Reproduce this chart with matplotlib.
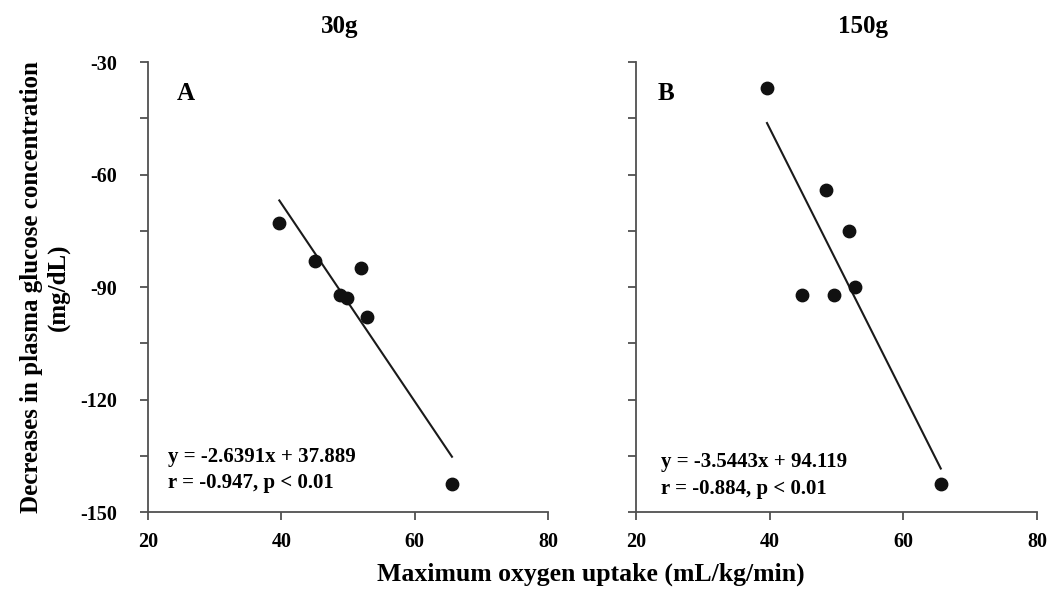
import numpy as np
import matplotlib
matplotlib.use('Agg')
import matplotlib.pyplot as plt

plt.rcParams['font.family'] = ['Liberation Serif', 'DejaVu Serif']
plt.rcParams['font.weight'] = 'bold'
plt.rcParams['axes.unicode_minus'] = False

# panel A (30g)
xa = [39.7, 45.0, 48.8, 49.8, 52.0, 52.8, 65.6]
ya = [-73.0, -83.0, -92.0, -93.0, -85.0, -98.0, -142.5]
slope_a, icpt_a = -2.6391, 37.889
# panel B (150g)
xb = [39.6, 44.8, 48.5, 49.6, 51.8, 52.7, 65.6]
yb = [-37.0, -92.0, -64.0, -92.0, -75.0, -90.0, -142.5]
slope_b, icpt_b = -3.5443, 94.119

titles = ['30g', '150g']
letters = ['A', 'B']
eq_lines = [['y = -2.6391x + 37.889', 'r = -0.947, p < 0.01'],
            ['y = -3.5443x + 94.119', 'r = -0.884, p < 0.01']]
xticks = [20, 40, 60, 80]
yticks = [-150, -120, -90, -60, -30]

fig = plt.figure(figsize=(10.54, 5.92), dpi=100)
ax1 = fig.add_axes([0.1404, 0.135, 0.3795, 0.76])
ax2 = fig.add_axes([0.6034, 0.135, 0.3805, 0.76])

spine_col = '#505050'
panels = [(ax1, xa, ya, slope_a, icpt_a), (ax2, xb, yb, slope_b, icpt_b)]
title_x = [0.3226, 0.8188]
letter_x = [0.072, 0.055]
eq_x = [0.05, 0.062]
eq_y = [(0.122, 0.064), (0.111, 0.051)]
for i, (ax, xs, ys, m, b) in enumerate(panels):
    xl = np.array([min(xs), max(xs)])
    ax.plot(xl, m * xl + b, color='#1a1a1a', lw=1.5, zorder=2)
    ax.scatter(xs, ys, s=80, color='#111111', zorder=3)
    ax.set_xlim(20, 80)
    ax.set_ylim(-150, -30)
    ax.set_xticks(xticks)
    ax.set_yticks(yticks)
    ax.set_yticks(np.arange(-135, -30, 30), minor=True)
    ax.spines['top'].set_visible(False)
    ax.spines['right'].set_visible(False)
    for s in ['left', 'bottom']:
        ax.spines[s].set_color(spine_col)
        ax.spines[s].set_linewidth(1.3)
    ax.tick_params(which='both', direction='out', color=spine_col, width=1.3, length=6,
                   labelsize=14.5)
    ax.tick_params(axis='x', pad=8)
    ax.tick_params(axis='y', pad=16)
    fig.text(title_x[i], 0.955, titles[i], fontsize=18, fontweight='bold',
             ha='center', va='center')
    ax.text(letter_x[i], 0.955, letters[i], transform=ax.transAxes,
            fontsize=18, fontweight='bold', va='top', ha='left')
    for line, yy in zip(eq_lines[i], eq_y[i]):
        ax.text(eq_x[i], yy, line, transform=ax.transAxes,
                fontsize=15, fontweight='bold', va='center', ha='left')
    for lab in ax.get_xticklabels() + ax.get_yticklabels():
        lab.set_fontweight('bold')

ax2.tick_params(axis='y', which='both', labelleft=False)

ax1.set_ylabel('Decreases in plasma glucose concentration\n(mg/dL)',
               fontsize=18, fontweight='bold', labelpad=8, linespacing=1.15)
fig.text(0.561, 0.03, 'Maximum oxygen uptake (mL/kg/min)', ha='center', va='center',
         fontsize=18.5, fontweight='bold')

fig.savefig('out.png', dpi=100)
